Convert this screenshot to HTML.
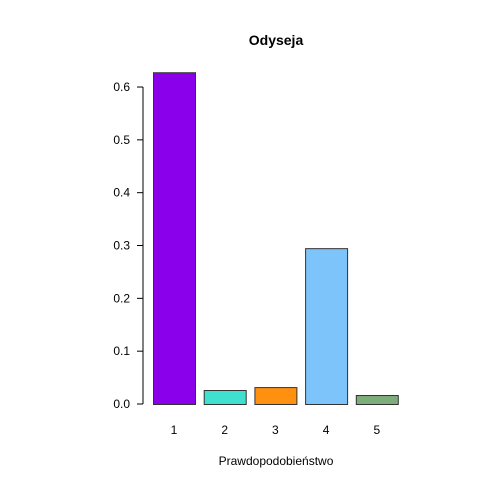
<!DOCTYPE html>
<html><head><meta charset="utf-8"><style>
body{margin:0;background:#fff;}
svg{display:block;font-family:"Liberation Sans",Arial,sans-serif;}
</style></head><body>
<svg id="chart" width="480" height="480">
<text x="276" y="45" text-anchor="middle" font-size="14" font-weight="bold">Odyseja</text>
<text x="276" y="465" text-anchor="middle" font-size="12">Prawdopodobieństwo</text>
<g id="yaxis"></g>
<g id="bars"></g>
<g id="xlabels"></g>
</svg>
<script>
const categories = ["1","2","3","4","5"];
const values = [0.628, 0.0265, 0.032, 0.295, 0.017];
const colors = ["#8B00EA","#40E0D0","#FF9010","#7CC4FA","#7DAD7A"];
const yTicks = [0,0.1,0.2,0.3,0.4,0.5,0.6];
const yTickLabels = ["0.0","0.1","0.2","0.3","0.4","0.5","0.6"];
const NS="http://www.w3.org/2000/svg";
const y0=404, pxPerUnit=528.3;
function yScale(v){return y0 - v*pxPerUnit;}
function xScale(i){return 153 + i*50.7;}
const bw=42;
const ya=document.getElementById('yaxis');
function mk(tag,attrs,parent){const e=document.createElementNS(NS,tag);for(const k in attrs)e.setAttribute(k,attrs[k]);parent.appendChild(e);return e;}
const axl=mk('line',{x1:143,x2:143,y1:yScale(yTicks[yTicks.length-1]),y2:yScale(0),stroke:'#000'},ya);


yTicks.forEach((t,i)=>{
  const tk=mk('line',{x1:137,x2:143,y1:yScale(t),y2:yScale(t),stroke:'#000'},ya);
  
  
  const tx=mk('text',{x:130,y:yScale(t)+4,'text-anchor':'end','font-size':12},ya);
  tx.textContent=yTickLabels[i];
  
  
});
const bg=document.getElementById('bars'), xl=document.getElementById('xlabels');
values.forEach((v,i)=>{
  const r=mk('rect',{x:xScale(i)+0.5,y:yScale(v)+0.5,width:bw,height:yScale(0)-yScale(v),fill:colors[i],stroke:'#333','stroke-width':1},bg);
  
  
  const t=mk('text',{x:xScale(i)+bw/2,y:434,'text-anchor':'middle','font-size':12},xl);
  t.textContent=categories[i];
  
  
});
</script>
</body></html>
